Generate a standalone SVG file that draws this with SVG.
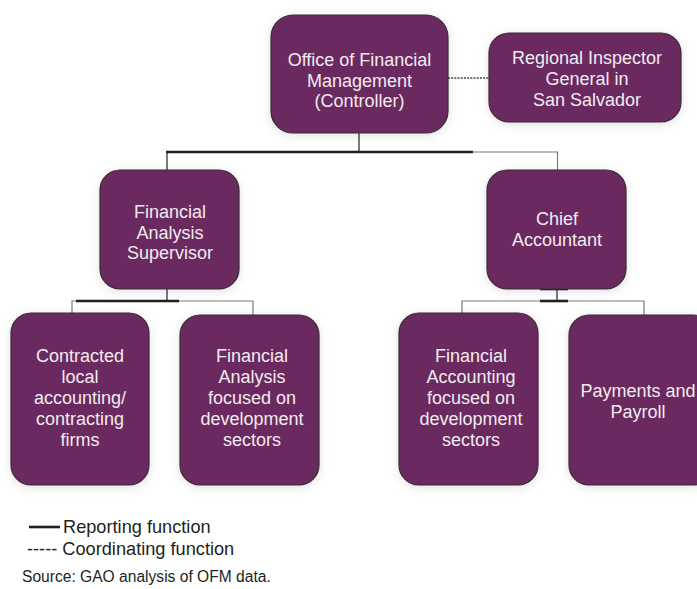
<svg xmlns="http://www.w3.org/2000/svg" width="697" height="589" viewBox="0 0 697 589">
<defs>
<filter id="sh" x="-20%" y="-20%" width="140%" height="140%">
<feDropShadow dx="0" dy="2" stdDeviation="5" flood-color="#000" flood-opacity="0.12"/>
</filter>
<style>
.box{fill:#6b2b5e;stroke:#3a2a35;stroke-width:1.2;filter:url(#sh)}
.t{font-family:"Liberation Sans",Arial,sans-serif;font-size:18px;fill:#f3eaf1;text-anchor:middle}
.thick{stroke:#231f20;stroke-width:2.6;fill:none}
.thin{stroke:#231f20;stroke-width:1.2;fill:none}
.grey{stroke:#7a7a7a;stroke-width:1.2;fill:none}
.leg{font-family:"Liberation Sans",Arial,sans-serif;font-size:18.2px;fill:#231f20}
.src{font-family:"Liberation Sans",Arial,sans-serif;font-size:15.6px;fill:#231f20}
</style>
</defs>
<rect width="697" height="589" fill="#fff"/>
<g id="connectors">
<line class="thin" x1="359" y1="133" x2="359" y2="152"/>
<line class="grey" x1="473" y1="152" x2="558" y2="152"/>
<line class="grey" x1="557.5" y1="152" x2="557.5" y2="170"/>
<line class="thick" x1="166" y1="152" x2="473" y2="152"/>
<line class="thin" x1="167" y1="152" x2="167" y2="170"/>
<line class="thin" x1="167" y1="289" x2="167" y2="301"/>
<polyline class="grey" points="72,313 72,301 253,301 253,315"/>
<line class="thick" x1="76" y1="301" x2="179" y2="301"/>
<line class="thick" x1="540" y1="289" x2="568" y2="289"/>
<line class="thin" x1="557" y1="289" x2="557" y2="301"/>
<polyline class="grey" points="462,313 462,301 644,301 644,315"/>
<line class="thick" x1="540" y1="301" x2="568" y2="301"/>
<line stroke="#444" stroke-width="1.6" stroke-dasharray="2,1.2" x1="448" y1="78" x2="489" y2="78"/>
</g>
<g id="ofm">
<rect class="box" x="271" y="15" width="177" height="118" rx="22"/>
<text class="t" x="359.5" y="66">Office of Financial</text>
<text class="t" x="359.5" y="86.5">Management</text>
<text class="t" x="359.5" y="107">(Controller)</text>
</g>
<g id="rig">
<rect class="box" x="489" y="33" width="192" height="89" rx="20"/>
<text class="t" x="587" y="64">Regional Inspector</text>
<text class="t" x="587" y="85">General in</text>
<text class="t" x="587" y="105.5">San Salvador</text>
</g>
<g id="fas">
<rect class="box" x="100" y="170" width="139" height="119" rx="20"/>
<text class="t" x="170" y="218">Financial</text>
<text class="t" x="170" y="239">Analysis</text>
<text class="t" x="170" y="259">Supervisor</text>
</g>
<g id="chief">
<rect class="box" x="487" y="170" width="139" height="119" rx="20"/>
<text class="t" x="557" y="225">Chief</text>
<text class="t" x="557" y="246">Accountant</text>
</g>
<g id="contracted">
<rect class="box" x="11" y="313" width="138" height="172" rx="20"/>
<text class="t" x="80" y="362">Contracted</text>
<text class="t" x="80" y="383">local</text>
<text class="t" x="80" y="404">accounting/</text>
<text class="t" x="80" y="425">contracting</text>
<text class="t" x="80" y="446">firms</text>
</g>
<g id="fa-sectors">
<rect class="box" x="180" y="315" width="139" height="170" rx="20"/>
<text class="t" x="252" y="362">Financial</text>
<text class="t" x="252" y="383">Analysis</text>
<text class="t" x="252" y="404">focused on</text>
<text class="t" x="252" y="425">development</text>
<text class="t" x="252" y="446">sectors</text>
</g>
<g id="facc-sectors">
<rect class="box" x="399" y="313" width="139" height="172" rx="20"/>
<text class="t" x="471" y="362">Financial</text>
<text class="t" x="471" y="383">Accounting</text>
<text class="t" x="471" y="404">focused on</text>
<text class="t" x="471" y="425">development</text>
<text class="t" x="471" y="446">sectors</text>
</g>
<g id="payments">
<rect class="box" x="569" y="315" width="145" height="170" rx="20"/>
<text class="t" x="638" y="397">Payments and</text>
<text class="t" x="638" y="418">Payroll</text>
</g>
<g id="legend">
<line x1="29" y1="527" x2="60" y2="527" stroke="#231f20" stroke-width="2.6"/>
<text class="leg" x="63" y="533">Reporting function</text>
<text class="leg" x="27" y="555">----- Coordinating function</text>
<text class="src" x="22" y="582">Source: GAO analysis of OFM data.</text>
</g>
</svg>
